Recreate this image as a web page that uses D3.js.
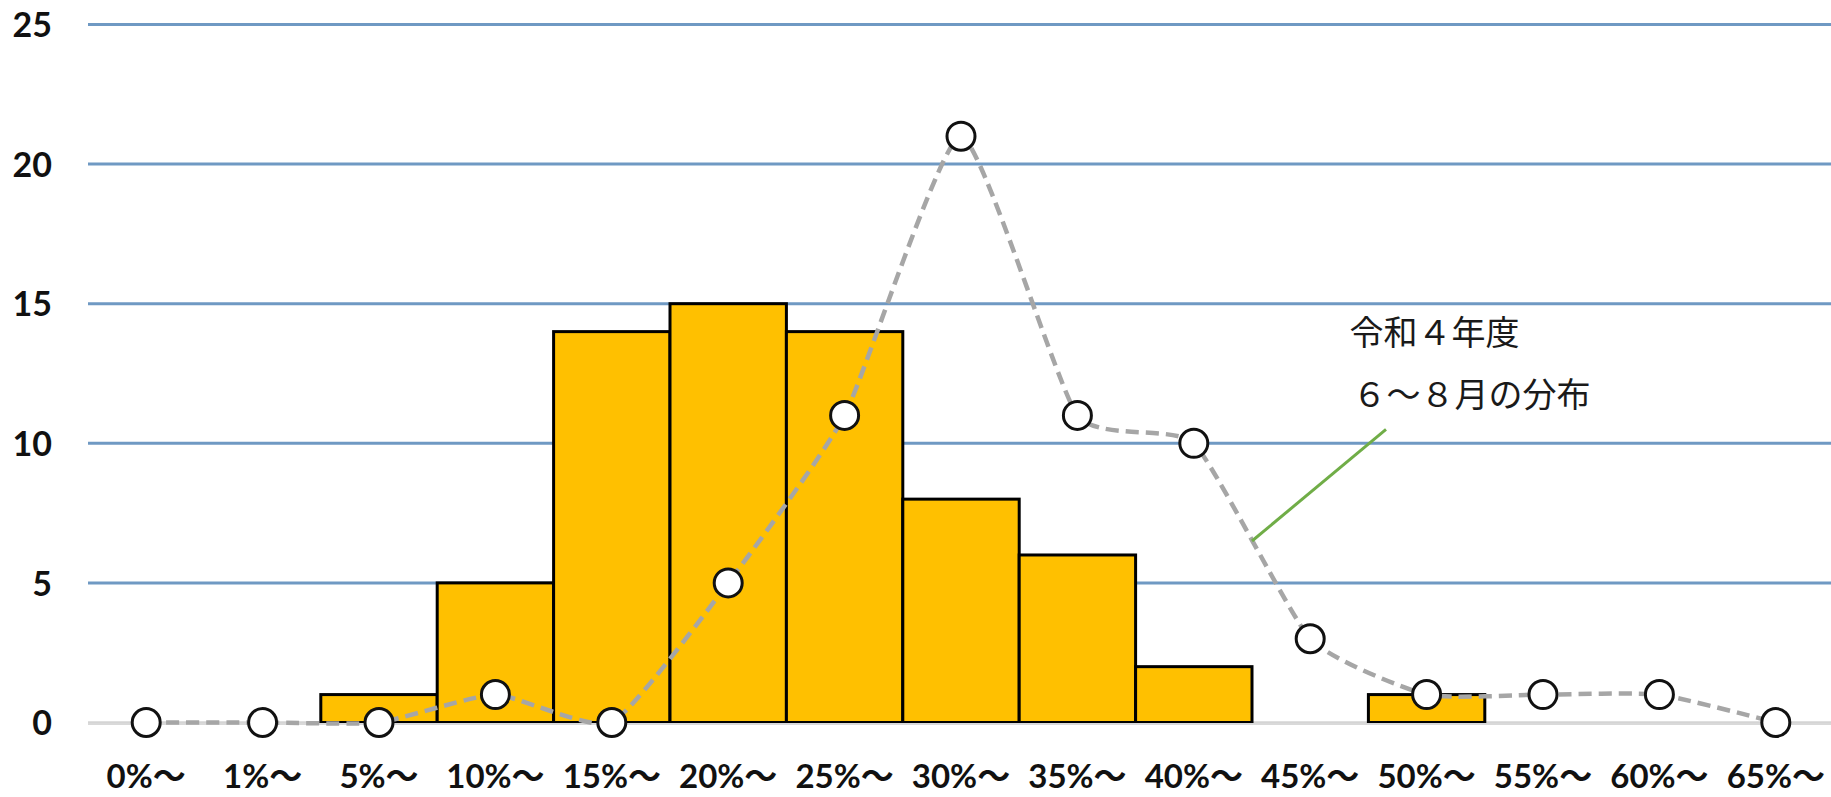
<!DOCTYPE html>
<html>
<head>
<meta charset="utf-8">
<script src="https://cdn.jsdelivr.net/npm/d3@7/dist/d3.min.js"></script>
<style>
  html, body { margin: 0; padding: 0; background: #fff; overflow: hidden; }
  svg { display: block; }
</style>
</head>
<body>
<svg id="chart" width="1831" height="797"></svg>
<script>
// ---- data ----
const categories = ["0%～","1%～","5%～","10%～","15%～","20%～","25%～","30%～","35%～","40%～","45%～","50%～","55%～","60%～","65%～"];
const barValues  = [0, 0, 1, 5, 14, 15, 14, 8, 6, 2, 0, 1, 0, 0, 0];
const lineValues = [0, 0, 0, 1, 0, 5, 11, 21, 11, 10, 3, 1, 1, 1, 0];
const yTicks = [0, 5, 10, 15, 20, 25];
const annotationLines = ["令和４年度", "６～８月の分布"];

// ---- layout ----
const W = 1831, H = 797;
const plot = { left: 88, right: 1834, top: 24.5, bottom: 722.5 };
const svg = d3.select("#chart");

const x = d3.scaleBand().domain(categories).range([plot.left, plot.right]).padding(0);
const y = d3.scaleLinear().domain([0, 25]).range([plot.bottom, plot.top]);
const cx = c => x(c) + x.bandwidth() / 2;

// gridlines
svg.append("g").selectAll("line")
  .data(yTicks.filter(t => t > 0))
  .join("line")
  .attr("x1", plot.left).attr("x2", W)
  .attr("y1", d => y(d)).attr("y2", d => y(d))
  .attr("stroke", "#6f99c3").attr("stroke-width", 3);

// baseline
svg.append("line")
  .attr("x1", plot.left).attr("x2", W)
  .attr("y1", y(0)).attr("y2", y(0))
  .attr("stroke", "#d4d4d4").attr("stroke-width", 2.5);

// y axis labels
const yAxis = d3.axisLeft(y).tickValues(yTicks).tickSize(0).tickPadding(0);
const gy = svg.append("g").attr("transform", "translate(52,0)").call(yAxis);
gy.select(".domain").remove();
gy.selectAll("text")
  .attr("font-family", "Lato, 'Open Sans', sans-serif")
  .attr("font-weight", "bold")
  .attr("font-size", 34)
  .attr("fill", "#111")
  .attr("dy", "0.36em");

// bars
svg.append("g").selectAll("rect")
  .data(categories.map((c, i) => ({ c, v: barValues[i] })).filter(d => d.v > 0))
  .join("rect")
  .attr("x", d => x(d.c))
  .attr("width", x.bandwidth())
  .attr("y", d => y(d.v))
  .attr("height", d => y(0) - y(d.v))
  .attr("fill", "#FFC000")
  .attr("stroke", "#000")
  .attr("stroke-width", 3);

svg.append("line")
  .attr("x1", plot.left).attr("x2", W)
  .attr("y1", y(0) + 1.5).attr("y2", y(0) + 1.5)
  .attr("stroke", "#d9d9d9").attr("stroke-width", 2);

// line series
const pts = categories.map((c, i) => ({ c, v: lineValues[i] }));
const lineGen = d3.line()
  .x(d => cx(d.c))
  .y(d => y(d.v))
  .curve(d3.curveCardinal.tension(0.5));
svg.append("path")
  .datum(pts)
  .attr("d", lineGen)
  .attr("fill", "none")
  .attr("stroke", "#a6a6a6")
  .attr("stroke-width", 4.5)
  .attr("stroke-dasharray", "13,7");

// annotation leader (from midpoint of 40%～–45%～ segment)
const i40 = categories.indexOf("40%～"), i45 = categories.indexOf("45%～");
const ax = (cx(categories[i40]) + cx(categories[i45])) / 2;
const ay = y((lineValues[i40] + lineValues[i45]) / 2);
svg.append("line")
  .attr("x1", ax).attr("y1", ay)
  .attr("x2", ax + 134).attr("y2", y(10.5))
  .attr("stroke", "#70ad47").attr("stroke-width", 3);

// markers
svg.append("g").selectAll("circle")
  .data(pts)
  .join("circle")
  .attr("cx", d => cx(d.c))
  .attr("cy", d => y(d.v))
  .attr("r", 14)
  .attr("fill", "#fff")
  .attr("stroke", "#111")
  .attr("stroke-width", 3);

// x axis labels
const xAxis = d3.axisBottom(x).tickSize(0).tickPadding(0);
const gx = svg.append("g").attr("transform", `translate(0,${y(0)})`).call(xAxis);
gx.select(".domain").remove();
gx.selectAll("text")
  .attr("font-family", "Lato, 'Noto Sans CJK JP', sans-serif")
  .attr("font-weight", "bold")
  .attr("font-size", 33)
  .attr("fill", "#111")
  .attr("y", 54)
  .attr("dy", "0.36em");

// annotation text
const ann = svg.append("text")
  .attr("font-family", "'Noto Sans CJK JP', sans-serif")
  .attr("font-size", 34)
  .attr("fill", "#1a1a1a");
ann.append("tspan").attr("x", cx("50%～") - 77).attr("y", y(13.8) + 8).text(annotationLines[0]);
ann.append("tspan").attr("x", cx("50%～") - 74).attr("y", y(11.7) + 11).text(annotationLines[1]);
</script>
</body>
</html>
